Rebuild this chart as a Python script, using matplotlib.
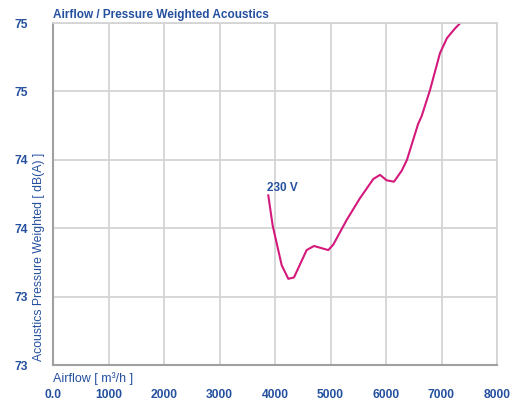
import matplotlib
matplotlib.use("Agg")
import matplotlib.pyplot as plt

# curve (airflow m3/h, dB(A))
airflow = [3879, 3958, 4120, 4240, 4342, 4570, 4703, 4960, 5050, 5291,
           5532, 5772, 5892, 6012, 6144, 6283, 6378, 6577, 6643, 6793,
           6973, 7099, 7243, 7340]
acoustics = [74.24, 74.02, 73.73, 73.63, 73.64, 73.84, 73.87, 73.84, 73.88, 74.06,
             74.22, 74.36, 74.39, 74.35, 74.34, 74.42, 74.50, 74.76, 74.82, 75.01,
             75.28, 75.39, 75.46, 75.50]
series_label = "230 V"

x_ticks = [0, 1000, 2000, 3000, 4000, 5000, 6000, 7000, 8000]
x_labels = ["0.0", "1000", "2000", "3000", "4000", "5000", "6000", "7000", "8000"]
y_ticks = [73.0, 73.5, 74.0, 74.5, 75.0, 75.5]
y_labels = ["73", "73", "74", "74", "75", "75"]

blue = "#24509e"
pink = "#d4197c"
plt.rcParams["font.family"] = ["Liberation Sans", "DejaVu Sans"]

fig = plt.figure(figsize=(5.25, 4.01), dpi=100)
ax = fig.add_axes([53 / 525, 36 / 401, 444 / 525, 342 / 401])

ax.plot(airflow, acoustics, color=pink, lw=1.5)
ax.text(airflow[0] - 30, acoustics[0] + 0.01, series_label, color=blue,
        fontsize=8.5, fontweight="bold", ha="left", va="bottom")

ax.set_xlim(0, 8000)
ax.set_ylim(73.0, 75.5)
ax.set_xticks(x_ticks)
ax.set_yticks(y_ticks)
ax.set_xticklabels(x_labels)
ax.set_yticklabels(y_labels)
ax.tick_params(axis="both", length=0, colors=blue, labelsize=8.7)
for lab in ax.get_xticklabels() + ax.get_yticklabels():
    lab.set_fontweight("bold")
ax.tick_params(axis="x", pad=17)
ax.tick_params(axis="y", pad=18)

ax.grid(True, color="#d4d4d4", lw=1.3)
for side in ["top", "right"]:
    ax.spines[side].set_color("#d4d4d4")
    ax.spines[side].set_linewidth(1.3)
for side in ["left", "bottom"]:
    ax.spines[side].set_color("#a0a0a0")
    ax.spines[side].set_linewidth(1.5)

fig.text(53 / 525, 1 - 15 / 401, "Airflow / Pressure Weighted Acoustics", color=blue,
         fontsize=8.5, ha="left", va="center", fontweight="bold")
fig.text(53 / 525, 1 - 379 / 401, "Airflow [ m\u00b3/h ]", color=blue,
         fontsize=9, ha="left", va="center")
fig.text(45 / 525, 1 - 361 / 401, "Acoustics Pressure Weighted [ dB(A) ]", color=blue,
         fontsize=8.8, ha="left", va="bottom", rotation=90, rotation_mode="anchor")

fig.savefig("out.png", dpi=100)
